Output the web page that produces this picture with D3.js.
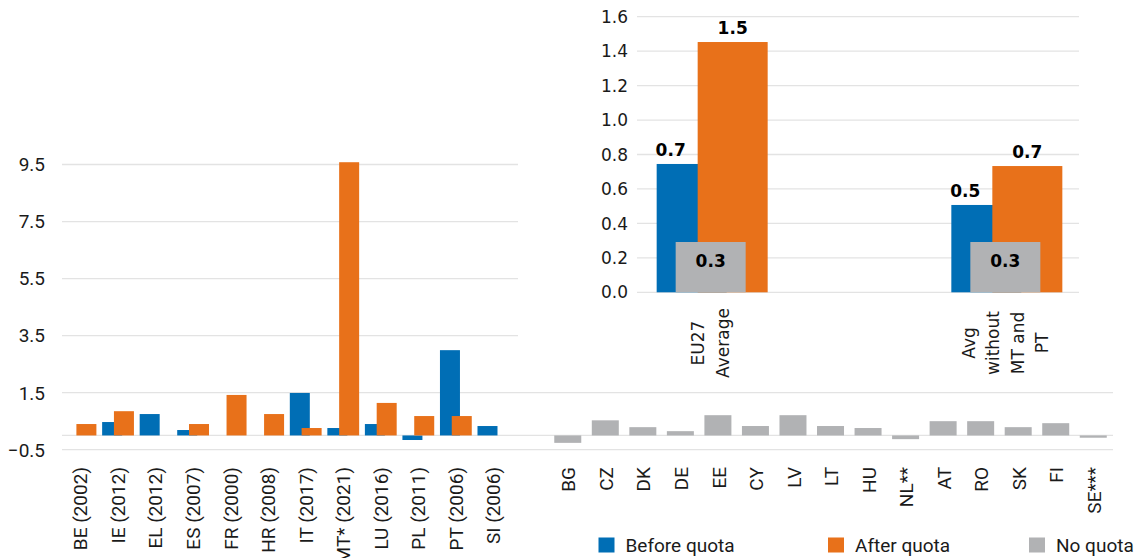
<!DOCTYPE html>
<html><head><meta charset="utf-8">
<script src="https://cdn.jsdelivr.net/npm/d3@7"></script>
<style>
html,body{margin:0;padding:0;background:#fff;}
svg{display:block;}
</style></head>
<body>
<svg id="c" width="1138" height="558"></svg>
<script>
// ---- data ----
const quotaCategories = ["BE (2002)","IE (2012)","EL (2012)","ES (2007)","FR (2000)","HR (2008)","IT (2017)","MT* (2021)","LU (2016)","PL (2011)","PT (2006)","SI (2006)"];
const noQuotaCategories = ["BG","CZ","DK","DE","EE","CY","LV","LT","HU","NL**","AT","RO","SK","FI","SE***"];
const beforeQuota = [0, 0.47, 0.75, 0.19, 0, 0, 1.49, 0.26, 0.40, -0.16, 2.99, 0.33];
const afterQuota  = [0.40, 0.85, 0, 0.40, 1.42, 0.75, 0.26, 9.58, 1.14, 0.68, 0.68, 0];
const noQuota     = [-0.26, 0.53, 0.29, 0.15, 0.71, 0.33, 0.71, 0.33, 0.26, -0.13, 0.50, 0.50, 0.29, 0.43, -0.08];
const mainTicks   = [-0.5, 1.5, 3.5, 5.5, 7.5, 9.5];

const insetCategories = [["EU27","Average"], [], ["Avg","without","MT and","PT"]];
const insetBefore = [0.745, null, 0.507];
const insetAfter  = [1.453, null, 0.733];
const insetNone   = [0.292, null, 0.292];
const insetTicks  = [0,0.2,0.4,0.6,0.8,1.0,1.2,1.4,1.6];

const legendItems = ["Before quota","After quota","No quota"];
const colors = {before:"#006EB5", after:"#E8711A", none:"#B1B2B4"};

// ---- main chart ----
const svg = d3.select("#c");
const mainFont = "Roboto, 'Open Sans', sans-serif";
const allCats = quotaCategories.concat([""], noQuotaCategories);
const x = d3.scaleBand().domain(allCats.map((d,i)=>i)).range([62, 1113]);
const y = d3.scaleLinear().domain([-0.5, 9.5]).range([449.7, 164.5]);

const grid = svg.append("g");
grid.selectAll("line").data(mainTicks).join("line")
  .attr("x1", 62).attr("x2", 1113)
  .attr("y1", d=>y(d)).attr("y2", d=>y(d))
  .attr("stroke", "#E3E3E3").attr("stroke-width", 1.3);
grid.append("line").attr("x1",62).attr("x2",1113).attr("y1",y(0)).attr("y2",y(0))
  .attr("stroke","#E3E3E3").attr("stroke-width",1.3);

svg.append("g").selectAll("text").data(mainTicks).join("text")
  .attr("x", 45).attr("y", d=>y(d)).attr("dy","0.36em")
  .attr("text-anchor","end").attr("font-family",mainFont).attr("font-size",19)
  .attr("fill","#1a1a1a").text(d=>d3.format(".1f")(d));

const bw = 20;
function bar(g, v, x0, w, color){
  g.append("rect").attr("x", x0).attr("width", w)
   .attr("y", y(Math.max(0,v))).attr("height", Math.abs(y(v)-y(0)))
   .attr("fill", color);
}
const bars = svg.append("g");
quotaCategories.forEach((c,i)=>{ if(beforeQuota[i]) bar(bars, beforeQuota[i], x(i)+2.6, bw, colors.before); });
quotaCategories.forEach((c,i)=>{ if(afterQuota[i]) bar(bars, afterQuota[i], x(i)+14.4, bw, colors.after); });
noQuotaCategories.forEach((c,j)=>{ const i = quotaCategories.length+1+j; bar(bars, noQuota[j], x(i)+4.3, 27, colors.none); });

svg.append("g").selectAll("text").data(allCats).join("text")
  .attr("transform",(d,i)=>`translate(${x(i)+x.bandwidth()/2},467) rotate(-90)`)
  .attr("dy","0.35em").attr("text-anchor","end")
  .attr("font-family",mainFont).attr("font-size",19).attr("fill","#1a1a1a")
  .text(d=>d);

// ---- inset ----
const inset = svg.append("g");
inset.append("rect").attr("x",518).attr("y",0).attr("width",620).attr("height",385).attr("fill","#fff");
const insetFont = "'DejaVu Sans', sans-serif";
const xi = d3.scaleBand().domain(insetCategories.map((d,i)=>i)).range([637,1079]);
const yi = d3.scaleLinear().domain([0,1.6]).range([292.3,16.7]);
inset.selectAll("line.g").data(insetTicks).join("line")
  .attr("x1",637).attr("x2",1079).attr("y1",d=>yi(d)).attr("y2",d=>yi(d))
  .attr("stroke","#E3E3E3").attr("stroke-width",1.3);
inset.selectAll("text.t").data(insetTicks).join("text")
  .attr("x",628).attr("y",d=>yi(d)).attr("dy","0.36em").attr("text-anchor","end")
  .attr("font-family",insetFont).attr("font-size",17).attr("fill","#1a1a1a")
  .text(d=>d3.format(".1f")(d));

const fmt = d3.format(".1f");
const iw = 70;
insetCategories.forEach((c,i)=>{
  if(insetBefore[i]==null) return;
  const cx = xi(i)+xi.bandwidth()/2;
  const parts = [[insetBefore[i], cx-54, colors.before],[insetAfter[i], cx-13, colors.after],[insetNone[i], cx-35, colors.none]];
  parts.forEach(p=>{
    inset.append("rect").attr("x",p[1]).attr("width",iw).attr("y",yi(p[0])).attr("height",yi(0)-yi(p[0])).attr("fill",p[2]);
  });
  const lab = (t,xx,yy)=>inset.append("text").attr("x",xx).attr("y",yy).attr("text-anchor","middle")
      .attr("font-family",insetFont).attr("font-weight","bold").attr("font-size",17).attr("fill","#000").text(t);
  lab(fmt(insetBefore[i]), cx-40, yi(insetBefore[i])-8);
  lab(fmt(insetAfter[i]), cx-13+iw/2, yi(insetAfter[i])-8);
  lab(fmt(insetNone[i]), cx, 267);
  // category label
  const n = c.length, lh = 24.5;
  const t = inset.append("text").attr("font-family",insetFont).attr("font-size",17).attr("fill","#1a1a1a")
    .attr("text-anchor","middle")
    .attr("transform",`translate(${cx},343) rotate(-90)`);
  c.forEach((line,k)=>{
    t.append("tspan").attr("x",0).attr("y",(k-(n-1)/2)*lh).attr("dy","0.35em").text(line);
  });
});

// ---- legend ----
const legX = [598.5, 828, 1029];
const legC = [colors.before, colors.after, colors.none];
const leg = svg.append("g");
legendItems.forEach((t,i)=>{
  leg.append("rect").attr("x",legX[i]).attr("y",537.5).attr("width",16).attr("height",15).attr("fill",legC[i]);
  leg.append("text").attr("x",legX[i]+27).attr("y",551.5).attr("font-family",mainFont).attr("font-size",19)
    .attr("fill","#1a1a1a").text(t);
});
</script>
</body></html>
